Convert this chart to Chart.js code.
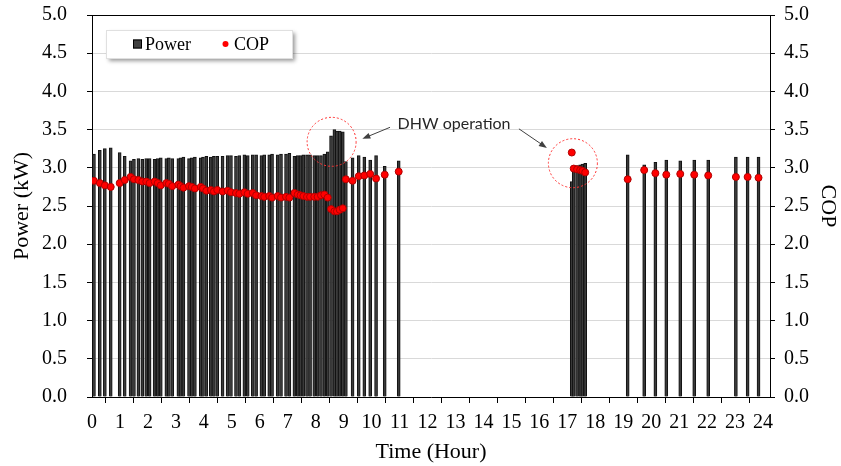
<!DOCTYPE html>
<html>
<head>
<meta charset="utf-8">
<script src="https://cdn.jsdelivr.net/npm/chart.js@4"></script>
<style>
  body { margin: 0; background: #fff; }
  #wrap { width: 841px; height: 466px; }
</style>
</head>
<body>
<div id="wrap"><canvas id="myChart" width="841" height="466"></canvas></div>
<script>
// time of each sample (hour)
const hours = [
    0.07, 0.28, 0.46, 0.67, 0.99, 1.17, 1.38, 1.50, 1.66, 1.80, 1.94, 2.06, 2.24, 2.35, 2.46, 2.66, 2.75, 2.87,
    3.09, 3.17, 3.27, 3.47, 3.57, 3.68, 3.89, 3.97, 4.09, 4.25, 4.36, 4.48, 4.67, 4.85, 4.97, 5.15, 5.27, 5.45,
    5.57, 5.75, 5.87, 6.06, 6.16, 6.34, 6.44, 6.64, 6.76, 6.94, 7.06, 7.24, 7.36, 7.46, 7.56, 7.69, 7.80, 7.95,
    8.07, 8.19, 8.31, 8.43, 8.55, 8.67, 8.76, 8.86, 8.97, 9.08, 9.32, 9.54, 9.74, 9.95, 10.16, 10.47, 10.97,
    17.16, 17.23, 17.35, 17.46, 17.54, 17.64,
    19.16, 19.75, 20.15, 20.54, 21.04, 21.54, 22.04, 23.03, 23.45, 23.84
];

// power (kW)
const power = [
    3.18, 3.23, 3.25, 3.26, 3.20, 3.15, 3.09, 3.11, 3.12, 3.11, 3.12, 3.12, 3.11, 3.12, 3.13, 3.12, 3.13, 3.12,
    3.12, 3.13, 3.14, 3.12, 3.13, 3.14, 3.13, 3.14, 3.15, 3.14, 3.15, 3.15, 3.15, 3.16, 3.16, 3.15, 3.16, 3.17,
    3.16, 3.17, 3.17, 3.16, 3.17, 3.17, 3.18, 3.17, 3.18, 3.18, 3.19, 3.15, 3.16, 3.16, 3.17, 3.17, 3.17, 3.16,
    3.16, 3.16, 3.18, 3.21, 3.42, 3.50, 3.48, 3.48, 3.47, 3.08, 3.13, 3.16, 3.14, 3.10, 3.16, 3.02, 3.09,
    2.82, 3.01, 3.03, 3.04, 3.05, 3.06,
    3.17, 3.04, 3.07, 3.10, 3.09, 3.10, 3.10, 3.14, 3.14, 3.14
];

// COP
const cop = [
    2.83, 2.80, 2.77, 2.75, 2.80, 2.84, 2.88, 2.85, 2.84, 2.82, 2.82, 2.80, 2.82, 2.80, 2.77, 2.80, 2.79, 2.76,
    2.78, 2.76, 2.74, 2.76, 2.75, 2.73, 2.75, 2.73, 2.70, 2.71, 2.69, 2.71, 2.69, 2.70, 2.68, 2.67, 2.66, 2.68,
    2.66, 2.67, 2.64, 2.63, 2.62, 2.63, 2.61, 2.63, 2.61, 2.62, 2.61, 2.67, 2.65, 2.64, 2.63, 2.62, 2.62, 2.62,
    2.62, 2.64, 2.65, 2.61, 2.46, 2.43, 2.43, 2.45, 2.47, 2.85, 2.83, 2.89, 2.90, 2.92, 2.86, 2.91, 2.95,
    3.20, 2.99, 2.98, 2.97, 2.96, 2.94,
    2.85, 2.97, 2.93, 2.91, 2.92, 2.91, 2.90, 2.88, 2.88, 2.87
];

// annotation: circles round the DHW periods, label and arrows (hour, value)
const dhwCircles = [[8.57, 3.34], [17.20, 3.06]];
const dhwLabel = [12.95, 3.57];
const dhwArrows = [[[10.66, 3.53], [9.67, 3.38]], [[15.27, 3.51], [16.27, 3.26]]];

const serif = "'Liberation Serif', 'Times New Roman', serif";

const annotations = {
    id: 'annotations',
    afterDraw(chart) {
        const ctx = chart.ctx;
        const xs = chart.scales.x;
        const ys = chart.scales.y;
        const area = chart.chartArea;

        // top border of plot
        ctx.save();
        ctx.strokeStyle = '#000';
        ctx.lineWidth = 1;
        ctx.beginPath();
        ctx.moveTo(area.left, area.top + 0.5);
        ctx.lineTo(area.right, area.top + 0.5);
        ctx.stroke();

        // dashed circles
        ctx.strokeStyle = '#ff3333';
        ctx.setLineDash([2, 2]);
        dhwCircles.forEach(c => {
            ctx.beginPath();
            ctx.arc(xs.getPixelForValue(c[0]), ys.getPixelForValue(c[1]), 24.5, 0, Math.PI * 2);
            ctx.stroke();
        });
        ctx.setLineDash([]);

        // arrows
        ctx.strokeStyle = '#404040';
        ctx.fillStyle = '#404040';
        dhwArrows.forEach(a => {
            const x1 = xs.getPixelForValue(a[0][0]), y1 = ys.getPixelForValue(a[0][1]);
            const x2 = xs.getPixelForValue(a[1][0]), y2 = ys.getPixelForValue(a[1][1]);
            const ang = Math.atan2(y2 - y1, x2 - x1);
            ctx.beginPath();
            ctx.moveTo(x1, y1);
            ctx.lineTo(x2 - 5 * Math.cos(ang), y2 - 5 * Math.sin(ang));
            ctx.stroke();
            ctx.beginPath();
            ctx.moveTo(x2, y2);
            ctx.lineTo(x2 - 8 * Math.cos(ang) + 3 * Math.sin(ang), y2 - 8 * Math.sin(ang) - 3 * Math.cos(ang));
            ctx.lineTo(x2 - 8 * Math.cos(ang) - 3 * Math.sin(ang), y2 - 8 * Math.sin(ang) + 3 * Math.cos(ang));
            ctx.closePath();
            ctx.fill();
        });

        // label
        ctx.fillStyle = '#262626';
        ctx.font = "16px Lato, 'Open Sans', sans-serif";
        ctx.textAlign = 'center';
        ctx.textBaseline = 'middle';
        ctx.fillText('DHW operation', xs.getPixelForValue(dhwLabel[0]), ys.getPixelForValue(dhwLabel[1]));

        // legend box
        const bx = 106, by = 30, bw = 186, bh = 28;
        ctx.shadowColor = 'rgba(0,0,0,0.4)';
        ctx.shadowBlur = 4;
        ctx.shadowOffsetX = 3;
        ctx.shadowOffsetY = 3;
        ctx.fillStyle = '#fff';
        ctx.fillRect(bx, by, bw, bh);
        ctx.shadowColor = 'transparent';
        ctx.strokeStyle = '#e0e0e0';
        ctx.strokeRect(bx + 0.5, by + 0.5, bw, bh);

        const ds = chart.data.datasets;
        ctx.fillStyle = '#404040';
        ctx.fillRect(133, 39.5, 9, 9);
        ctx.strokeStyle = '#000';
        ctx.strokeRect(133.5, 40, 8, 8);
        ctx.beginPath();
        ctx.arc(225.5, 44, 3, 0, Math.PI * 2);
        ctx.fillStyle = '#ff0000';
        ctx.fill();
        ctx.fillStyle = '#000';
        ctx.font = '18px ' + serif;
        ctx.textAlign = 'left';
        ctx.fillText(ds[0].label, 145, 45);
        ctx.fillText(ds[1].label, 234, 45);
        ctx.restore();
    }
};

const data = {
    datasets: [{
        type: 'bar',
        label: 'Power',
        data: hours.map((h, i) => ({x: h, y: power[i]})),
        backgroundColor: '#3a3a3a',
        borderColor: '#111',
        borderWidth: 1,
        barThickness: 3,
        yAxisID: 'y',
        order: 1
    }, {
        type: 'line',
        label: 'COP',
        data: hours.map((h, i) => ({x: h, y: cop[i]})),
        showLine: false,
        pointRadius: 3.5,
        pointBackgroundColor: '#ff0000',
        pointBorderColor: '#b00000',
        pointBorderWidth: 1,
        yAxisID: 'y2',
        order: 0
    }]
};

// fixed axis sizes so the plot area sits where it does in the original
function fixVertical(width) {
    return scale => {
        scale.width = width;
        scale.paddingTop = 12;
        scale.paddingBottom = 12;
    };
}

const options = {
    responsive: false,
    animation: false,
    devicePixelRatio: 1,
    layout: {padding: {top: 15, left: 0, right: 0, bottom: 0}},
    plugins: {
        legend: {display: false},
        tooltip: {enabled: false}
    },
    scales: {
        x: {
            type: 'linear',
            min: 0,
            max: 24.25,
            offset: false,
            afterFit(scale) { scale.height = 69; },
            ticks: {
                stepSize: 1,
                includeBounds: false,
                autoSkip: false,
                maxRotation: 0,
                padding: 8,
                color: '#000',
                font: {family: serif, size: 20},
                callback: v => Number.isInteger(v) ? v : ''
            },
            grid: {drawOnChartArea: false, tickLength: 6, tickColor: '#000'},
            border: {color: '#000'},
            title: {
                display: true,
                text: 'Time (Hour)',
                color: '#000',
                font: {family: serif, size: 22},
                padding: {top: 0, bottom: 1}
            }
        },
        y: {
            position: 'left',
            min: 0,
            max: 5,
            afterFit: fixVertical(92),
            ticks: {
                stepSize: 0.5,
                padding: 20,
                color: '#000',
                font: {family: serif, size: 20},
                callback: v => v.toFixed(1)
            },
            grid: {color: '#d9d9d9', tickLength: 5, tickColor: '#000'},
            border: {color: '#000'},
            title: {
                display: true,
                text: 'Power (kW)',
                color: '#000',
                font: {family: serif, size: 22},
                padding: {top: 9, bottom: 0}
            }
        },
        y2: {
            position: 'right',
            min: 0,
            max: 5,
            afterFit: fixVertical(71),
            ticks: {
                stepSize: 0.5,
                padding: 9,
                color: '#000',
                font: {family: serif, size: 20},
                callback: v => v.toFixed(1)
            },
            grid: {drawOnChartArea: false, tickLength: 5, tickColor: '#000'},
            border: {color: '#000'},
            title: {
                display: true,
                text: 'COP',
                color: '#000',
                font: {family: serif, size: 22},
                padding: {top: 0, bottom: 0}
            }
        }
    }
};

const myChart = new Chart(document.getElementById('myChart'), {
    type: 'bar',
    data,
    options,
    plugins: [annotations]
});
</script>
</body>
</html>
